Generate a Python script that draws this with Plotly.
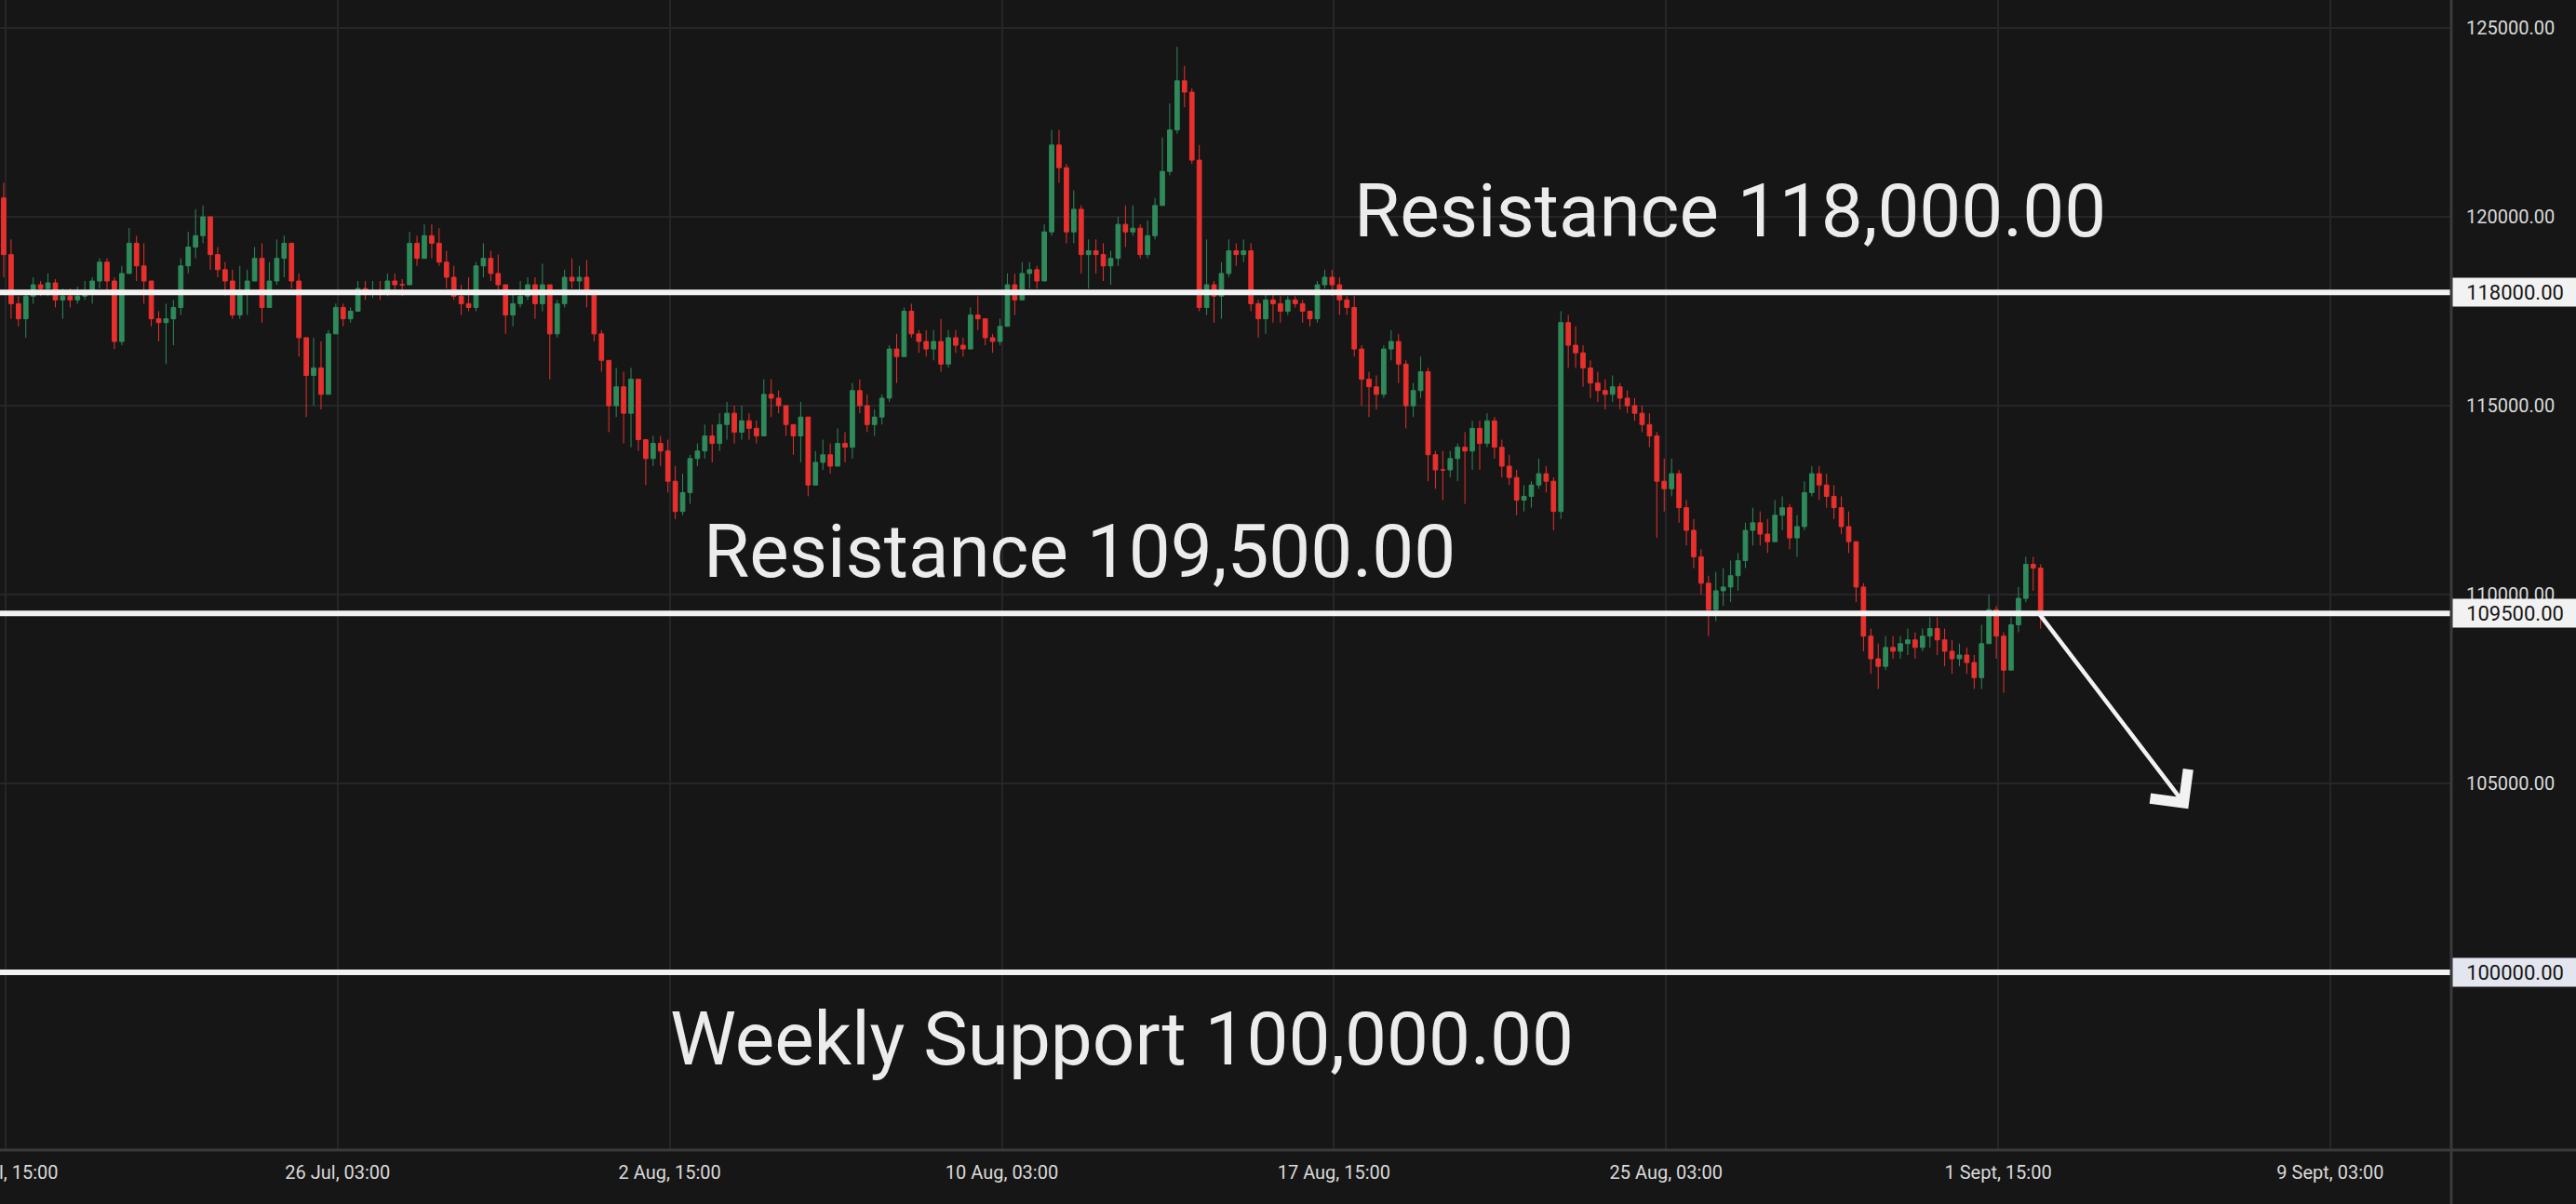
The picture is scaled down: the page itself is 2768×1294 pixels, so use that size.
import pandas as pd
import plotly.graph_objects as go

# ---------------- data (4-hour candles) ----------------
first_open = 120500
closes = [
    119000, 117700, 117300, 117900, 118200, 118100, 118250, 117800, 117900, 117800,
    117900, 118000, 118300, 118800, 118300, 116700, 118500, 119300, 118700, 118300,
    117300, 117200, 117300, 117600, 118700, 119200, 119500, 120000, 119000, 118600,
    118300, 117400, 118000, 118300, 118900, 117600, 118300, 118900, 119300, 118300,
    116800, 115800, 116000, 115300, 116900, 117600, 117300, 117500, 118100, 118000,
    118050, 118000, 118300, 118200, 118200, 119300, 118900, 119500, 119300, 118800,
    118400, 117900, 117700, 117600, 118700, 118900, 118500, 118200, 117400, 117700,
    117900, 118200, 117700, 118200, 116900, 117700, 118400, 118300, 118400, 118000,
    116900, 116200, 115000, 115500, 114800, 115700, 114100, 113600, 114000, 113800,
    113000, 112200, 112700, 113600, 113800, 114200, 114000, 114500, 114800, 114300,
    114600, 114400, 114200, 115300, 115200, 115000, 114500, 114200, 114700, 112900,
    113500, 113700, 113400, 114000, 113900, 115400, 115000, 114500, 114700, 115200,
    116500, 116300, 117500, 116900, 116700, 116500, 116700, 116100, 116800, 116600,
    116500, 117400, 117300, 116800, 116700, 117100, 118200, 117800, 118500, 118600,
    118300, 119600, 121900, 121300, 119600, 120200, 119000, 119100, 119000, 118700,
    118900, 119800, 119600, 119700, 119000, 119500, 120300, 121200, 122300, 123600,
    123300, 121500, 117600, 118200, 117900, 118500, 119100, 119000, 119100, 117700,
    117300, 117800, 117700, 117500, 117800, 117700, 117500, 117300, 118200, 118400,
    118200, 117800, 117600, 116500, 115700, 115500, 115300, 116500, 116700, 116100,
    115000, 115400, 115900, 113700, 113300, 113300, 113600, 113900, 113800, 114400,
    114000, 114600, 113900, 113400, 113100, 112500, 112600, 112900, 113200, 113000,
    112200, 117200, 116600, 116400, 116000, 115600, 115400, 115300, 115500, 115200,
    115000, 114800, 114500, 114200, 113000, 112800, 113200, 112300, 111700, 111000,
    110300, 109600, 110100, 110200, 110500, 110900, 111700, 111900, 111600, 111400,
    112100, 112300, 111500, 111800, 112700, 113200, 112900, 112600, 112300, 111800,
    111400, 110200, 108900, 108300, 108100, 108600, 108500, 108700, 108800, 108600,
    108900, 109100, 108800, 108500, 108300, 108400, 108200, 107800, 108700, 109600,
    108900, 108000, 109200, 109900, 110800, 110700, 109500,
]
highs = [
    120900, 119400, 117900, 118000, 118400, 118300, 118500, 118350, 118100, 118100,
    118150, 118300, 118400, 118900, 118900, 118400, 118700, 119700, 119500, 119300,
    118300, 117500, 117700, 117800, 118900, 119600, 120200, 120300, 120000, 119200,
    118800, 118600, 118700, 118600, 119200, 119300, 118800, 119400, 119500, 119200,
    118500, 116700, 116800, 116700, 117000, 117700, 117700, 117600, 118300, 118300,
    118300, 118300, 118500, 118500, 118350, 119600, 119500, 119800, 119800, 119700,
    119100, 118700, 118200, 118400, 118800, 119300, 119100, 119000, 118000, 118000,
    118300, 118400, 118400, 118760, 117900, 117800, 118600, 118900, 118700, 118850,
    117900, 117000, 116200, 116000, 115900, 116000, 115700, 114000, 114200, 114200,
    114100, 113400, 113200, 113700, 114000, 114500, 114500, 114800, 115100, 115000,
    115000, 114800, 114600, 115700, 115700, 115400, 115000, 114500, 115100, 114600,
    113800, 114100, 114000, 114400, 114300, 115600, 115700, 115300, 114900, 115300,
    116600, 116900, 117600, 117700, 117000, 117000, 117000, 117300, 117000, 117000,
    116800, 117600, 117900, 117300, 116900, 117300, 118500, 118500, 118800, 118800,
    118700, 119800, 122300, 122300, 121400, 120700, 120300, 119400, 119400, 119300,
    119100, 120000, 120300, 120300, 119800, 119900, 120500, 122100, 123000, 124500,
    124000, 123400, 121900, 119400, 118300, 118800, 119400, 119300, 119400, 119300,
    117800, 118000, 118000, 117900, 117900, 117900, 117800, 117500, 118300, 118600,
    118600, 118400, 117900, 117900, 116600, 115900, 115800, 116600, 117000, 116900,
    116200, 115600, 116300, 116000, 113800, 113800, 113800, 114000, 114300, 114600,
    114600, 114800, 114700, 114100, 113700, 113300, 112900, 113000, 113600, 113400,
    113100, 117500, 117400, 117100, 116600, 116200, 115900, 115700, 115800, 115600,
    115400, 115200, 115000, 114800, 114300, 113600, 113600, 113300, 112500, 112000,
    111200, 110500, 110600, 110700, 110900, 111100, 111900, 112300, 112200, 112000,
    112500, 112600, 112400, 112100, 113000, 113400, 113400, 113200, 112900, 112600,
    112200, 111400, 110300, 109100, 108700, 108900, 108900, 108900, 109100, 109000,
    109100, 109400, 109400, 109100, 108800, 108700, 108600, 108400, 109200, 110000,
    109700, 109000, 109400, 110200, 111000, 111000, 110800,
]
lows = [
    118400, 117300, 117100, 116800, 117700, 117900, 117900, 117600, 117300, 117600,
    117700, 117800, 117700, 118100, 118000, 116500, 116600, 118500, 118300, 117700,
    117100, 116700, 116100, 116600, 117400, 118500, 118900, 119300, 118600, 118400,
    117900, 117300, 117300, 117400, 118400, 117200, 117900, 118200, 118400, 118100,
    116300, 114700, 115000, 114900, 115500, 116900, 117100, 117200, 117500, 117800,
    117850, 117800, 117900, 118000, 117900, 118200, 118700, 119000, 118900, 118700,
    118100, 117800, 117400, 117500, 117500, 118400, 118300, 118000, 116900, 117100,
    117600, 117800, 117300, 117500, 115700, 116800, 117600, 118100, 118000, 117600,
    116700, 115900, 114300, 114700, 114000, 113900, 113800, 112900, 113400, 113400,
    112700, 112000, 112100, 112400, 113400, 113600, 113500, 113800, 114100, 114000,
    114100, 114100, 114000, 114500, 114700, 114800, 114200, 113700, 113500, 112600,
    113000, 113300, 113200, 113600, 113500, 113600, 114800, 114300, 114200, 114500,
    115100, 115600, 116400, 116800, 116400, 116300, 116200, 115900, 116000, 116400,
    116300, 116500, 117000, 116600, 116400, 116600, 117100, 117400, 117900, 118100,
    118100, 118300, 119500, 120900, 119300, 119300, 118500, 118100, 118500, 118300,
    118200, 118700, 119200, 119500, 118900, 118900, 119400, 120300, 121100, 122200,
    122900, 121400, 117500, 117400, 117200, 117300, 118400, 118700, 118800, 117500,
    116800, 116900, 117200, 117200, 117400, 117600, 117200, 117100, 117200, 118100,
    117900, 117400, 117400, 116300, 115000, 114700, 114900, 115200, 116200, 115600,
    114400, 114700, 115200, 113000, 112800, 112500, 113100, 113000, 112400, 113300,
    113300, 113900, 113600, 113100, 112900, 112100, 112200, 112300, 112800, 112700,
    111700, 112000, 116000, 116000, 115500, 115200, 115100, 114900, 115100, 114900,
    114800, 114600, 114300, 113900, 111500, 112200, 112600, 111900, 111300, 110700,
    110000, 108900, 109300, 109700, 109800, 110100, 110700, 111300, 111300, 111100,
    111400, 111700, 111200, 111000, 111700, 112600, 112500, 112300, 112000, 111600,
    111100, 109800, 108500, 107900, 107500, 108000, 108300, 108300, 108400, 108300,
    108500, 108600, 108400, 108100, 107900, 108100, 107900, 107500, 107500, 108800,
    108300, 107400, 108000, 109000, 109800, 110100, 109100,
]
opens = [first_open] + closes[:-1]

candle_start = "2025-07-18 14:00"
candle_step = "4h"

levels = [118000, 109500, 100000]
level_labels = ["118000.00", "109500.00", "100000.00"]
level_texts = ["Resistance 118,000.00", "Resistance 109,500.00", "Weekly Support 100,000.00"]

x_tick_vals = ["2025-07-18 15:00", "2025-07-26 03:00", "2025-08-02 15:00", "2025-08-10 03:00",
               "2025-08-17 15:00", "2025-08-25 03:00", "2025-09-01 15:00", "2025-09-09 03:00"]
x_tick_text = ["18 Jul, 15:00", "26 Jul, 03:00", "2 Aug, 15:00", "10 Aug, 03:00",
               "17 Aug, 15:00", "25 Aug, 03:00", "1 Sept, 15:00", "9 Sept, 03:00"]
# 100000 is covered by its price badge, so only the visible ticks are listed
y_tick_vals = [105000, 110000, 115000, 120000, 125000]

arrow_tail = ("2025-09-02 12:10", 109560)
arrow_head = ("2025-09-05 22:00", 104330)

# ---------------- figure ----------------
times = pd.date_range(candle_start, periods=len(closes), freq=candle_step)

BG = "#161616"
GRID = "#26262a"
UP = "#2e8a5a"
DOWN = "#e8302d"
TXT = "#dadada"
FONT = "Roboto"

fig = go.Figure()
fig.add_trace(go.Candlestick(
    x=times, open=opens, high=highs, low=lows, close=closes,
    increasing=dict(line=dict(color=UP, width=1), fillcolor=UP),
    decreasing=dict(line=dict(color=DOWN, width=1), fillcolor=DOWN),
    whiskerwidth=0, hoverinfo="skip", showlegend=False,
))

# horizontal gridline at 100000 (tick label hidden under badge)
fig.add_shape(type="line", xref="paper", x0=0, x1=1, yref="y", y0=100000, y1=100000,
              line=dict(color=GRID, width=2), layer="below")

# horizontal level lines
for lv in levels:
    fig.add_shape(type="line", xref="paper", x0=0, x1=1, yref="y", y0=lv, y1=lv,
                  line=dict(color="#f2f2f2", width=6), layer="above")

# axis frame lines (bottom & right separator)
fig.add_shape(type="line", xref="paper", x0=0, x1=1.06, yref="paper", y0=0, y1=0,
              line=dict(color="#3a3a3d", width=3), layer="above")
fig.add_shape(type="line", xref="paper", x0=1, x1=1, yref="paper", y0=-0.05, y1=1.0,
              line=dict(color="#3a3a3d", width=3), layer="above")

# price badges on the right axis
badge_bg = ["#f2f2f2", "#f2f2f2", "#e3e6ee"]
for lv, lab, bg in zip(levels, level_labels, badge_bg):
    fig.add_annotation(xref="paper", x=1, xanchor="left", xshift=1, yref="y", y=lv,
                       yanchor="middle", text=lab, showarrow=False, width=131, height=28,
                       align="center", bgcolor=bg, borderpad=1,
                       font=dict(family=FONT, size=22, color="#141414"))

# big level texts
text_pos = [(0.7058, 120150), (0.4404, 111130), (0.4575, 98230)]
for (xp, yp), t in zip(text_pos, level_texts):
    fig.add_annotation(xref="paper", x=xp, yref="y", y=yp, text=t, showarrow=False,
                       xanchor="center", yanchor="middle",
                       font=dict(family=FONT, size=80, color="#ececec"))

# arrow
fig.add_annotation(x=arrow_head[0], y=arrow_head[1], xref="x", yref="y",
                   ax=arrow_tail[0], ay=arrow_tail[1], axref="x", ayref="y",
                   showarrow=True, arrowhead=4, arrowsize=2.2, arrowwidth=4.5,
                   arrowcolor="#f2f2f2", text="", standoff=0, startstandoff=0)

fig.update_layout(
    width=2768, height=1294,
    margin=dict(l=0, r=134, t=0, b=58, autoexpand=False),
    paper_bgcolor=BG, plot_bgcolor=BG,
    font=dict(family=FONT, color=TXT),
    boxgap=0.15,
    xaxis=dict(
        type="date", range=["2025-07-18 12:00", "2025-09-11 20:36"],
        rangeslider=dict(visible=False),
        tickvals=x_tick_vals, ticktext=x_tick_text,
        tickfont=dict(family=FONT, size=20, color=TXT),
        ticklabeloverflow="allow", automargin=False,
        showgrid=True, gridcolor=GRID, gridwidth=2,
        zeroline=False, showline=False, ticks="", ticklabelstandoff=10,
    ),
    yaxis=dict(
        side="right", range=[95296, 125739], automargin=False,
        tickvals=y_tick_vals, tickformat=".2f",
        tickfont=dict(family=FONT, size=20, color=TXT),
        showgrid=True, gridcolor=GRID, gridwidth=2,
        zeroline=False, showline=False, ticks="", ticklabelstandoff=15,
    ),
    hovermode=False,
)

fig.write_html("out.html", config={"displayModeBar": False},
               post_script="document.body.style.margin='0';document.body.style.overflow='hidden';document.body.style.background='#161616';")
